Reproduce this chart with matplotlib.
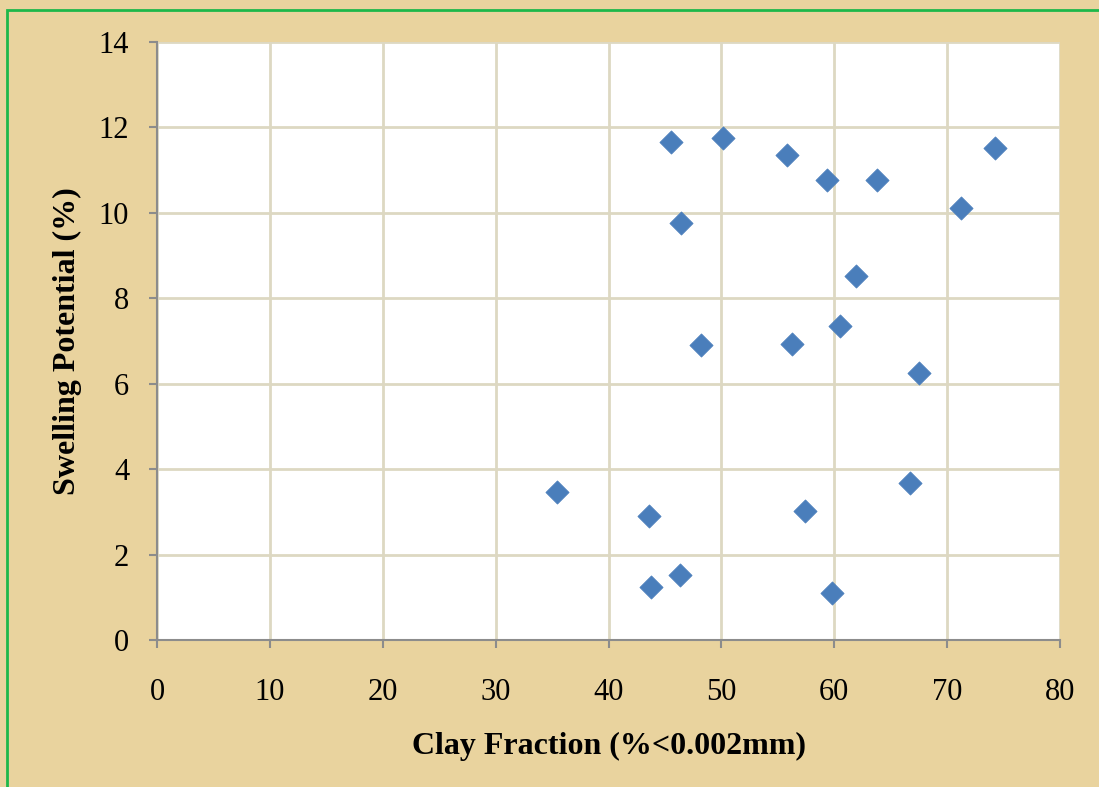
import matplotlib.pyplot as plt
from matplotlib.patches import Rectangle

# clay fraction (%<0.002mm) vs swelling potential (%)
clay = [35.4, 43.6, 43.8, 46.3, 45.5, 46.4, 48.2, 50.1, 55.8, 59.4,
        63.8, 61.9, 71.2, 74.2, 60.5, 56.3, 67.5, 66.7, 57.4, 59.8]
swell = [3.47, 2.90, 1.24, 1.52, 11.67, 9.76, 6.91, 11.76, 11.36, 10.77,
         10.77, 8.53, 10.11, 11.52, 7.35, 6.93, 6.25, 3.68, 3.02, 1.10]

x_ticks = [0, 10, 20, 30, 40, 50, 60, 70, 80]
y_ticks = [0, 2, 4, 6, 8, 10, 12, 14]

W, H = 1099, 787
plt.rcParams['font.family'] = ['Liberation Serif', 'DejaVu Serif']

fig = plt.figure(figsize=(W / 100, H / 100), dpi=100)
fig.patch.set_facecolor('#E9D39E')

# green frame, open at right and bottom edge
fig.patches.append(Rectangle((7 / W, -0.1), 1.2, 1 - 10 / H + 0.1,
                             transform=fig.transFigure, fill=False,
                             edgecolor='#1DB84A', linewidth=2))

ax = fig.add_axes([157 / W, 1 - 640 / H, (1060 - 157) / W, (640 - 42) / H])
ax.set_facecolor('white')

ax.scatter(clay, swell, marker='D', s=140, color='#4A7EBB', zorder=3,
           edgecolors='#4A7EBB', linewidths=0.5)

ax.set_xlim(0, 80)
ax.set_ylim(0, 14)
ax.set_xticks(x_ticks)
ax.set_yticks(y_ticks)
ax.grid(True, color='#DDD8C2', linewidth=2)
ax.set_axisbelow(True)

for side in ['top', 'right']:
    ax.spines[side].set_visible(False)
for side in ['left', 'bottom']:
    ax.spines[side].set_color('#8C8C8C')
    ax.spines[side].set_linewidth(1.5)

ax.tick_params(axis='both', direction='out', length=6, width=1.5,
               color='#8C8C8C', labelsize=22, labelcolor='black')
ax.tick_params(axis='x', pad=21)
ax.tick_params(axis='y', pad=14)

ax.set_xlabel('Clay Fraction (%<0.002mm)', fontsize=23, fontweight='bold', labelpad=18)
ax.set_ylabel('Swelling Potential (%)', fontsize=23, fontweight='bold', labelpad=12)

fig.savefig('out.png', dpi=100, facecolor=fig.get_facecolor())
